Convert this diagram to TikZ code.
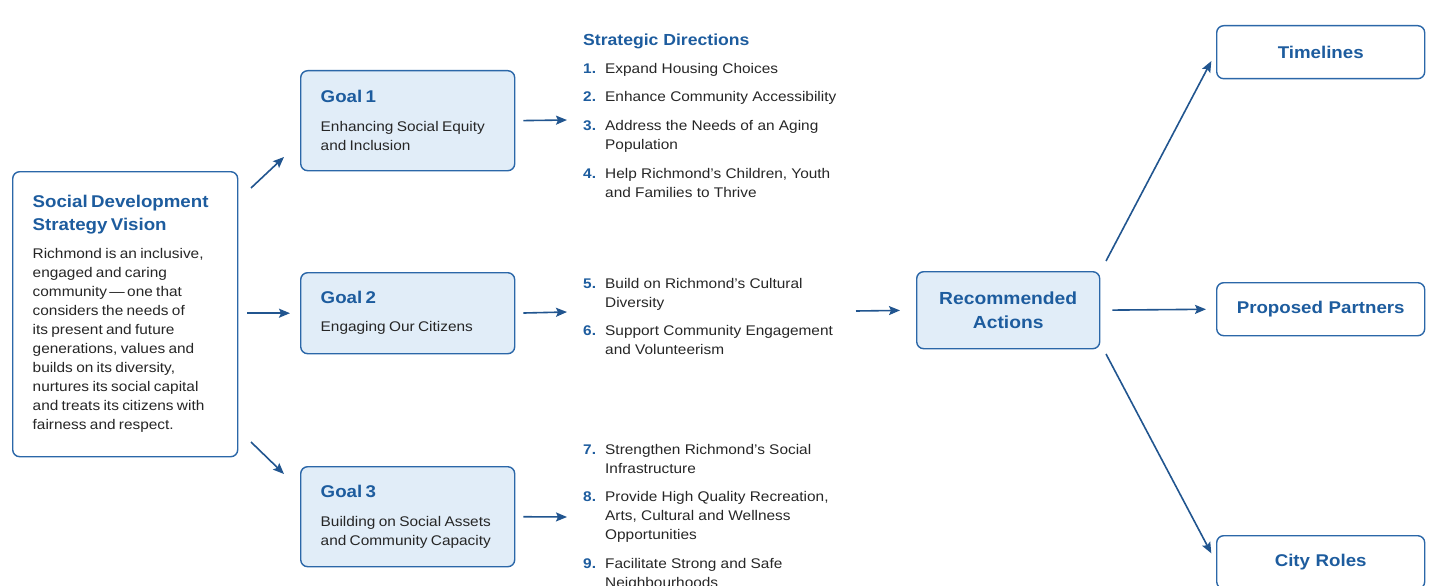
\documentclass[tikz,border=0pt]{standalone}
\usepackage{fontspec}
\setmainfont[FakeStretch=1.1]{Liberation Sans}
\usetikzlibrary{arrows.meta}

\definecolor{sdblue}{HTML}{1D5C9E}
\definecolor{sdline}{HTML}{2B67A8}
\definecolor{sdarrow}{HTML}{21558F}
\definecolor{sdfill}{HTML}{E1EDF8}
\definecolor{sdtext}{HTML}{262626}

\newcommand\sdbody{\fontsize{14}{19}\selectfont}
\newcommand\sdtitle{\fontsize{17}{23}\selectfont\bfseries\color{sdblue}}
\newcommand\sdnum[1]{\makebox[22pt][l]{\textcolor{sdblue}{\bfseries #1.}}}

\tikzset{
  box/.style={draw=sdline, line width=1.4pt, rounded corners=7pt, fill=white,
    inner xsep=20pt, inner ysep=0pt, align=left, text=sdtext, anchor=north west},
  goalbox/.style={box, fill=sdfill, minimum width=214pt, text width=174pt},
  endbox/.style={box, minimum width=208pt, minimum height=53pt, text width=168pt,
    align=center, text=sdblue, font=\fontsize{17}{20}\selectfont\bfseries},
  dir/.style={anchor=base west, inner sep=0pt, text=sdtext, font=\sdbody},
  arr/.style={draw=sdarrow, line width=1.6pt, -{Stealth[length=11pt,width=9pt,inset=2pt]}},
}

\begin{document}
\begin{tikzpicture}[x=1pt, y=-1pt]
  \useasboundingbox (0,0) rectangle (1436,586);
  \clip (0,0) rectangle (1436,586);

  % vision and goals
  \node[box, minimum width=225pt, minimum height=285pt, text width=185pt] (vision) at (12,171)
    {{\sdtitle Social Development\\Strategy Vision\par}\vspace{9pt}%
     {\sdbody Richmond is an inclusive,\\engaged and caring\\community\,---\,one that\\considers the needs of\\its present and future\\generations, values and\\builds on its diversity,\\nurtures its social capital\\and treats its citizens with\\fairness and respect.\par}};
  \node[goalbox, minimum height=100pt] (goal1) at (300,70)
    {{\sdtitle Goal 1\par}\vspace{10pt}{\sdbody Enhancing Social Equity\\and Inclusion\par}};
  \node[goalbox, minimum height=81pt] (goal2) at (300,272)
    {{\sdtitle Goal 2\par}\vspace{9pt}{\sdbody Engaging Our Citizens\par}};
  \node[goalbox, minimum height=100pt] (goal3) at (300,466)
    {{\sdtitle Goal 3\par}\vspace{10pt}{\sdbody Building on Social Assets\\and Community Capacity\par}};

  % strategic directions
  \node[dir, font=\fontsize{16}{20}\selectfont\bfseries, text=sdblue] (dirs) at (583,46) {Strategic Directions};
  \node[dir] (d1) at (583,74)  {\sdnum{1}Expand Housing Choices};
  \node[dir] (d2) at (583,102) {\sdnum{2}Enhance Community Accessibility};
  \node[dir] (d3) at (583,130) {\sdnum{3}\parbox[t]{250pt}{Address the Needs of an Aging\\Population}};
  \node[dir] (d4) at (583,178) {\sdnum{4}\parbox[t]{250pt}{Help Richmond's Children, Youth\\and Families to Thrive}};
  \node[dir] (d5) at (583,288) {\sdnum{5}\parbox[t]{250pt}{Build on Richmond's Cultural\\Diversity}};
  \node[dir] (d6) at (583,335) {\sdnum{6}\parbox[t]{250pt}{Support Community Engagement\\and Volunteerism}};
  \node[dir] (d7) at (583,454) {\sdnum{7}\parbox[t]{250pt}{Strengthen Richmond's Social\\Infrastructure}};
  \node[dir] (d8) at (583,501) {\sdnum{8}\parbox[t]{250pt}{Provide High Quality Recreation,\\Arts, Cultural and Wellness\\Opportunities}};
  \node[dir] (d9) at (583,568) {\sdnum{9}\parbox[t]{250pt}{Facilitate Strong and Safe\\Neighbourhoods}};

  % actions and outcomes
  \node[box, fill=sdfill, minimum width=183pt, minimum height=77pt, text width=143pt,
        align=center, text=sdblue, font=\fontsize{17.5}{24}\selectfont\bfseries] (actions) at (916,271)
    {Recommended\\Actions};
  \node[endbox] (timelines) at (1216,25)  {Timelines};
  \node[endbox] (partners)  at (1216,282) {Proposed Partners};
  \node[endbox] (roles)     at (1216,535) {City Roles};

  % arrow ends
  \coordinate (v1s) at (251,188);
  \coordinate (v1e) at (284,157);
  \coordinate (v3s) at (251,442);
  \coordinate (v3e) at (284,474);
  \coordinate (g1e) at (567,120);
  \coordinate (g2e) at (567,312);
  \coordinate (g3e) at (567,517);
  \coordinate (dse) at (856,311);
  \coordinate (a1s) at (1106,261);
  \coordinate (a3s) at (1106,354);

  \draw[arr] (v1s) -- (v1e);
  \draw[arr, shorten <=9pt, shorten >=10pt] (vision.east |- goal2.west) -- (goal2.west);
  \draw[arr] (v3s) -- (v3e);
  \draw[arr, shorten <=8pt] (goal1.east) -- (g1e);
  \draw[arr, shorten <=8pt] (goal2.east) -- (g2e);
  \draw[arr, shorten <=8pt] (goal3.east) -- (g3e);
  \draw[arr, shorten >=16pt] (dse) -- (actions.west);
  \draw[arr, shorten <=12pt, shorten >=10pt] (actions.east) -- (partners.west);
  \draw[arr, shorten >=10pt] (a1s) -- (timelines.west);
  \draw[arr, shorten >=10pt] (a3s) -- (roles.west);
\end{tikzpicture}
\end{document}
